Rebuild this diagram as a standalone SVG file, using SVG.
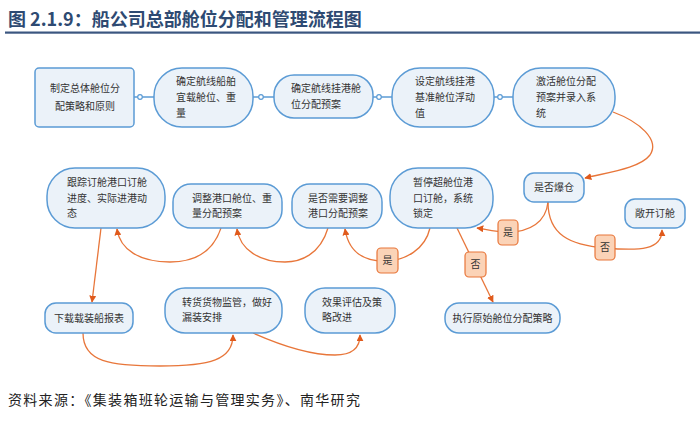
<svg xmlns="http://www.w3.org/2000/svg" width="700" height="430" viewBox="0 0 700 430">
<style>
.nd{fill:#ebf2f9;stroke:#5b9bd5;stroke-width:1.5}
.nt{font-family:"Noto Sans CJK SC","Liberation Sans",sans-serif;font-size:10px;fill:#333}
.bl{stroke:#5b9bd5;stroke-width:1.5;fill:none}
.dot{fill:#fff;stroke:#5b9bd5;stroke-width:1.2}
.oc{stroke:#e8763a;stroke-width:1.3;fill:none;marker-end:url(#ah)}
.lb{fill:#fbd3b7;stroke:#e8763a;stroke-width:1.2}
.lt{font-family:"Noto Sans CJK SC",sans-serif;font-size:10px;fill:#333;text-anchor:middle}
</style>
<defs>
<marker id="ah" viewBox="0 0 10 10" refX="9" refY="5" markerWidth="7" markerHeight="7" orient="auto" markerUnits="userSpaceOnUse">
<path d="M0,0 L10,5 L0,10 z" fill="#e05a1c"/>
</marker>
</defs>
<rect width="700" height="430" fill="#fff"/>
<text x="8" y="26" font-family="'Noto Sans CJK SC','Liberation Sans',sans-serif" font-size="18" font-weight="bold" fill="#2e4a72">图 2.1.9：船公司总部舱位分配和管理流程图</text>
<rect x="5" y="31.5" width="695" height="2.2" fill="#3b5680"/>

<g id="connectors">
<line class="bl" x1="134" y1="97" x2="154" y2="97"/>
<circle class="dot" cx="140" cy="97" r="2.3"/>
<line class="bl" x1="253" y1="97" x2="274" y2="97"/>
<circle class="dot" cx="261" cy="97" r="2.3"/>
<line class="bl" x1="373" y1="97" x2="392" y2="97"/>
<circle class="dot" cx="379" cy="97" r="2.3"/>
<line class="bl" x1="494" y1="97" x2="513" y2="97"/>
<circle class="dot" cx="500" cy="97" r="2.3"/>
<path class="oc" d="M613,112 C640,122 660,140 650,155 C640,168 610,172 585,178"/>
<path class="oc" d="M548,202 C546,222 530,232 508,232 C495,232 485,229 477,228"/>
<path class="oc" d="M548,202 C548,235 570,245 605,248 C640,251 662,250 662,230"/>
<path class="oc" d="M430,228 C425,250 405,260 387,261 C360,262 348,248 345,229"/>
<path class="oc" d="M457,228 L493,302"/>
<path class="oc" d="M328,228 C320,255 300,262 285,262 C260,262 240,250 237,229"/>
<path class="oc" d="M221,228 C212,255 190,262 170,262 C140,262 120,250 117,229"/>
<path class="oc" d="M101,228 L92,302"/>
<path class="oc" d="M83,333 C83,362 110,366 160,366 C210,366 233,360 233,335"/>
<path class="oc" d="M253,333 C280,345 310,355 335,355 C355,355 360,345 360,335"/>
<rect class="lb" x="498" y="220" width="20" height="25" rx="4"/><text class="lt" x="508" y="236">是</text>
<rect class="lb" x="595" y="235" width="20" height="25" rx="4"/><text class="lt" x="605" y="251">否</text>
<rect class="lb" x="377" y="248" width="21" height="25" rx="4"/><text class="lt" x="387.5" y="264">是</text>
<rect class="lb" x="465" y="252" width="21" height="25" rx="4"/><text class="lt" x="475.5" y="268">否</text>
</g>

<g id="n1"><rect class="nd" x="35" y="68" width="99" height="59" rx="4"/>
<text class="nt" font-size="11" text-anchor="middle"><tspan x="85" y="92">制定总体舱位分</tspan><tspan x="85" y="110">配策略和原则</tspan></text></g>
<g id="n2"><rect class="nd" x="154" y="68" width="99" height="59" rx="28"/>
<text class="nt"><tspan x="176" y="85">确定航线船舶</tspan><tspan x="176" y="101">宜载舱位、重</tspan><tspan x="176" y="117">量</tspan></text></g>
<g id="n3"><rect class="nd" x="274" y="75" width="99" height="43" rx="20"/>
<text class="nt"><tspan x="291" y="92">确定航线挂港舱</tspan><tspan x="291" y="108">位分配预案</tspan></text></g>
<g id="n4"><rect class="nd" x="392" y="68" width="102" height="59" rx="28"/>
<text class="nt"><tspan x="415" y="85">设定航线挂港</tspan><tspan x="415" y="101">基准舱位浮动</tspan><tspan x="415" y="117">值</tspan></text></g>
<g id="n5"><rect class="nd" x="513" y="68" width="102" height="59" rx="28"/>
<text class="nt"><tspan x="536" y="85">激活舱位分配</tspan><tspan x="536" y="101">预案并录入系</tspan><tspan x="536" y="117">统</tspan></text></g>

<g id="n6"><rect class="nd" x="47" y="168" width="118" height="60" rx="28"/>
<text class="nt"><tspan x="67" y="186">跟踪订舱港口订舱</tspan><tspan x="67" y="202">进度、实际进港动</tspan><tspan x="67" y="217">态</tspan></text></g>
<g id="n7"><rect class="nd" x="173" y="184" width="109" height="44" rx="18"/>
<text class="nt"><tspan x="192" y="202">调整港口舱位、重</tspan><tspan x="192" y="217">量分配预案</tspan></text></g>
<g id="n8"><rect class="nd" x="292" y="184" width="90" height="44" rx="18"/>
<text class="nt"><tspan x="308" y="202">是否需要调整</tspan><tspan x="308" y="217">港口分配预案</tspan></text></g>
<g id="n9"><rect class="nd" x="390" y="168" width="103" height="60" rx="28"/>
<text class="nt"><tspan x="413" y="186">暂停超舱位港</tspan><tspan x="413" y="202">口订舱，系统</tspan><tspan x="413" y="217">锁定</tspan></text></g>
<g id="n10"><rect class="nd" x="524" y="173" width="60" height="29" rx="10"/>
<text class="nt" text-anchor="middle" x="554" y="191">是否爆仓</text></g>
<g id="n11"><rect class="nd" x="625" y="199" width="60" height="29" rx="10"/>
<text class="nt" text-anchor="middle" x="655" y="217">敞开订舱</text></g>

<g id="n12"><rect class="nd" x="45" y="303" width="88" height="30" rx="11"/>
<text class="nt" text-anchor="middle" x="89" y="322">下载载装船报表</text></g>
<g id="n13"><rect class="nd" x="165" y="288" width="117" height="45" rx="20"/>
<text class="nt"><tspan x="182" y="306">转货货物监管，做好</tspan><tspan x="182" y="321">漏装安排</tspan></text></g>
<g id="n14"><rect class="nd" x="305" y="288" width="90" height="45" rx="20"/>
<text class="nt"><tspan x="322" y="306">效果评估及策</tspan><tspan x="322" y="321">略改进</tspan></text></g>
<g id="n15"><rect class="nd" x="445" y="303" width="115" height="30" rx="14"/>
<text class="nt" text-anchor="middle" x="502.5" y="322">执行原始舱位分配策略</text></g>

<text x="8" y="405" font-family="'Noto Sans CJK SC','Liberation Sans',sans-serif" font-size="14" letter-spacing="1.3" fill="#222">资料来源：《集装箱班轮运输与管理实务》、南华研究</text>
</svg>
